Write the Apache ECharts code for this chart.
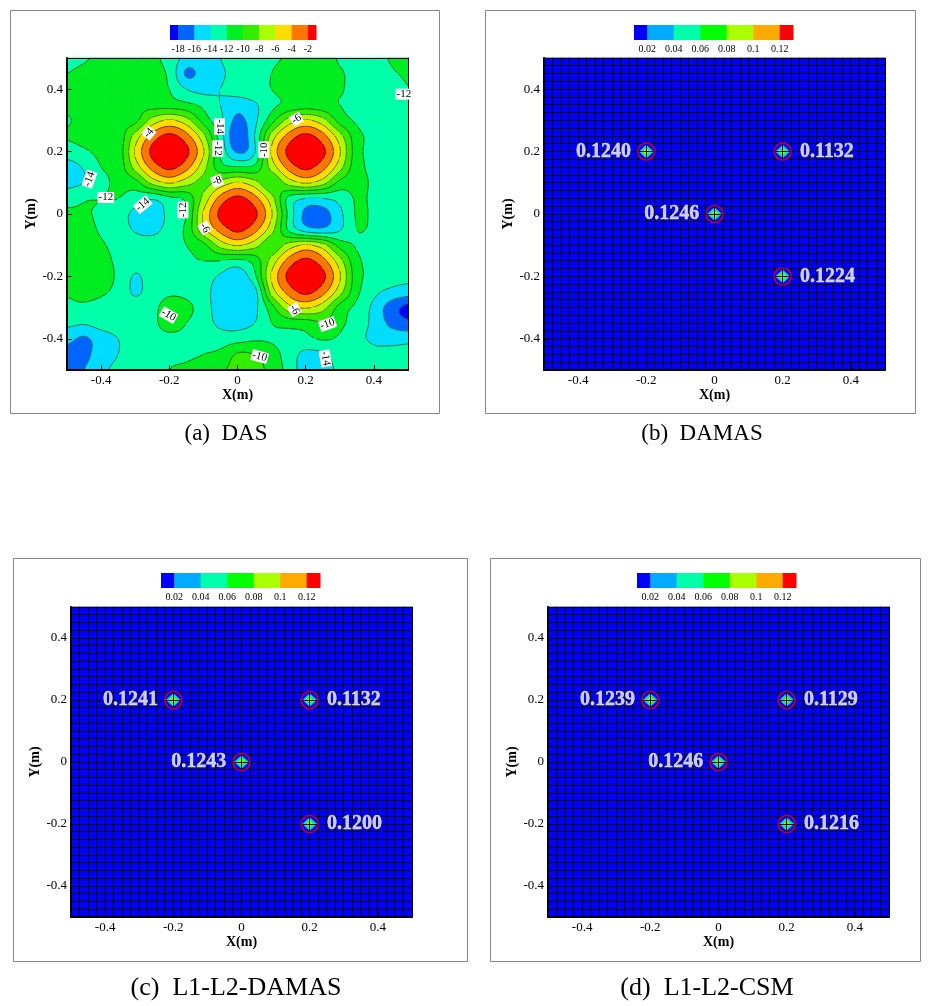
<!DOCTYPE html>
<html><head><meta charset="utf-8">
<script src="https://cdn.jsdelivr.net/npm/echarts@6/dist/echarts.min.js"></script>
<style>html,body{margin:0;padding:0;background:#fff}#c{width:931px;height:1006px}</style>
</head><body><div id="c"></div>
<script>
// ---------------- DATA ----------------
const dasX = [-0.5,-0.45,-0.4,-0.35,-0.3,-0.25,-0.2,-0.15,-0.1,-0.05,0,0.05,0.1,0.15,0.2,0.25,0.3,0.35,0.4,0.45,0.5];
const dasY = [0.5,0.45,0.4,0.35,0.3,0.25,0.2,0.15,0.1,0.05,0,-0.05,-0.1,-0.15,-0.2,-0.25,-0.3,-0.35,-0.4,-0.45,-0.5];
// DAS beamforming map in dB, one row per dasY value (top to bottom), columns follow dasX
const dasDB = [
 [-12.5,-12.2,-11.5,-11,-11,-11.5,-12.8,-14.6,-15,-14,-12.8,-12.5,-12.2,-11.8,-11,-11.2,-12.2,-12.6,-12.4,-11.9,-11.5],
 [-12,-11.5,-11,-10.8,-11,-11.3,-12.4,-16.3,-15.2,-14.4,-13,-12.4,-12,-11.4,-10.6,-11,-11.8,-12.5,-12.8,-12.2,-11.8],
 [-11.5,-11,-10.6,-10.5,-10.7,-11.2,-12,-14,-14.6,-14,-13,-12.5,-12,-11.2,-10.6,-11.2,-11.8,-12.6,-12.9,-12.8,-12.1],
 [-11.6,-11,-10.8,-10.5,-10.3,-10.8,-11,-11.5,-12.5,-14,-15.2,-14.3,-12.5,-11.5,-11,-11.3,-12,-12.6,-12.9,-13,-12.9],
 [-12.2,-11.2,-10.8,-10.5,-10.5,-7.2,-5.8,-7.2,-10.8,-13.5,-16.5,-14.5,-10.8,-7.2,-5.8,-7.2,-10.8,-12.3,-13,-13.2,-13.2],
 [-11.8,-11.3,-11,-11.2,-7.2,-3.3,-1.5,-3.3,-7.4,-13,-17.5,-14,-7.2,-3.3,-1.5,-3.3,-7.2,-11.3,-12.5,-13,-13],
 [-13,-12.3,-11.5,-11.2,-5.8,-1.5,0,-1.5,-5.8,-12.3,-16.3,-14.2,-5.8,-1.5,0,-1.5,-5.8,-11.2,-12.5,-13,-13],
 [-14.8,-13.8,-12,-11.3,-7.2,-3.3,-1.5,-3.3,-7.2,-11.2,-11.8,-11.5,-7.2,-3.3,-1.5,-3.3,-7.2,-11.3,-12.3,-12.8,-12.8],
 [-14.5,-14,-12.6,-11.5,-10.8,-7.4,-5.8,-7.2,-8.6,-7.2,-5.8,-7.2,-9.8,-7.2,-5.8,-7.2,-10.6,-11.5,-12.2,-12.6,-12.8],
 [-13,-12.2,-12,-12,-13,-13.8,-12.5,-11.5,-7.4,-3.3,-1.5,-3.3,-7.2,-12.5,-14,-14,-13.3,-11.8,-12.3,-12.8,-13],
 [-11.5,-11.8,-12.3,-13,-14.5,-15,-13.5,-12,-5.8,-1.5,0,-1.5,-5.8,-12.5,-16.5,-16.8,-14.5,-11.8,-12.3,-12.8,-13],
 [-11.3,-11.5,-12.2,-13,-14.2,-14.6,-13.2,-11.5,-6.5,-3.3,-1.5,-3.3,-7.2,-12.3,-15,-15.5,-14.2,-12,-12.3,-12.6,-12.8],
 [-11,-11.2,-11.8,-12.5,-13,-13,-12.5,-12,-10.6,-7.2,-5.8,-7.2,-9.5,-7.2,-5.8,-7.2,-10.8,-12.2,-12.8,-13,-13],
 [-10.8,-11,-11.5,-12.3,-13,-13.3,-12.8,-12.3,-12,-12,-12.5,-11.2,-7.2,-3.3,-1.5,-3.3,-7.2,-11.5,-12.5,-13,-13.2],
 [-10.5,-10.8,-11.3,-12.3,-14.2,-13,-12.5,-12.6,-13,-14.3,-15.3,-12.5,-5.8,-1.5,0,-1.5,-5.8,-11.2,-12.5,-13.2,-13.5],
 [-11.8,-11.6,-11.8,-12.5,-14.3,-13,-12.3,-12.5,-13.3,-15,-15.8,-14.8,-7.2,-3.3,-1.5,-3.3,-7.2,-11.5,-13.5,-14.5,-15],
 [-12.3,-12.3,-12.5,-12.8,-13,-12.5,-11.2,-11.5,-13,-15,-15.5,-14.5,-10.8,-6.8,-5.8,-7.2,-10.8,-12.5,-14.5,-17,-18.5],
 [-13.5,-13.8,-13.2,-13,-12.7,-12.3,-11.5,-12,-13,-14.5,-14.8,-14,-12,-11.2,-11,-10.2,-11.5,-13,-14.5,-16.5,-17.5],
 [-15.5,-16.3,-15,-14,-13,-12.5,-12.3,-12.3,-12.6,-13,-12.8,-12.3,-12.3,-12.8,-12.5,-11.8,-12.3,-13.5,-14.3,-14.6,-14.5],
 [-16.5,-16.5,-15,-14,-13,-12.5,-12.2,-12.2,-12,-11.5,-9.8,-10,-11,-13,-14.5,-14.3,-13,-12.8,-13.5,-13.5,-13.5],
 [-16.5,-16,-14.5,-13.5,-12.8,-12.3,-12,-11.8,-11.3,-10.3,-9.5,-9.6,-10.5,-12.8,-15,-15,-13.5,-13,-13.2,-13.3,-13.3]
];
const dasLevels = [-18,-16,-14,-12,-10,-8,-6,-4,-2];
const dasColors = ['#0000ff','#0066ff','#00ddff','#00ffaa','#00ee22','#33ee00','#aaff00','#ffdd00','#ff7700','#ff0000'];
// contour labels of the DAS map: x, y, text, angle
const dasLabelX = [-0.26,-0.053,-0.058,0.077,0.173,-0.06,-0.434,-0.386,-0.278,-0.16,-0.096,0.167,0.264,-0.202,0.065,0.258,0.488];
const dasLabelY = [0.26,0.28,0.21,0.206,0.304,0.106,0.112,0.053,0.03,0.013,-0.045,-0.307,-0.353,-0.324,-0.457,-0.463,0.384];
const dasLabelText = ['-4','-14','-12','-10','-6','-8','-14','-12','-14','-12','-6','-6','-10','-10','-10','-14','-12'];
const dasLabelAngle = [50,-90,-90,90,30,20,70,0,40,90,-60,-60,20,-30,-15,-80,0];

// deconvolution mesh (41 x 41 nodes)
const meshX = [-0.5,-0.475,-0.45,-0.425,-0.4,-0.375,-0.35,-0.325,-0.3,-0.275,-0.25,-0.225,-0.2,-0.175,-0.15,-0.125,-0.1,-0.075,-0.05,-0.025,0,0.025,0.05,0.075,0.1,0.125,0.15,0.175,0.2,0.225,0.25,0.275,0.3,0.325,0.35,0.375,0.4,0.425,0.45,0.475,0.5];
const meshY = meshX.slice();
const sourceX = [-0.2, 0.2, 0, 0.2];
const sourceY = [0.2, 0.2, 0, -0.2];
const damasPeak = [0.1240, 0.1132, 0.1246, 0.1224];
const l1l2DamasPeak = [0.1241, 0.1132, 0.1243, 0.1200];
const l1l2CsmPeak = [0.1239, 0.1129, 0.1246, 0.1216];
const labelSide = ['left','right','left','right'];
const powerLevels = [0.02,0.04,0.06,0.08,0.1,0.12];
const powerColors = ['#0000ff','#00aaff','#00ffaa','#00ff00','#aaff00','#ffaa00','#ff0000'];
const axisTickValues = [-0.4,-0.2,0,0.2,0.4];
const captions = ['(a)  DAS','(b)  DAMAS','(c)  L1-L2-DAMAS','(d)  L1-L2-CSM'];

// ---------------- LAYOUT ----------------
const FONT = "'Liberation Serif','Times New Roman',serif";
const panels = [
  {plot:{left:67,top:58,width:341,height:312}, bar:{left:170,top:25,width:146,height:15}, frame:[10,10,429,403], cap:[226,434], capSize:23, yGap:18},
  {plot:{left:544,top:58,width:341,height:312}, bar:{left:634,top:25,width:159,height:15}, frame:[485,10,430,403], cap:[702,434], capSize:23, yGap:20},
  {plot:{left:71,top:607,width:341,height:310}, bar:{left:161,top:573,width:159,height:15}, frame:[13,558,454,403], cap:[236,988], capSize:26, yGap:20},
  {plot:{left:548,top:607,width:341,height:310}, bar:{left:637,top:573,width:159,height:15}, frame:[490,558,430,403], cap:[707,988], capSize:26, yGap:20}
];

// ---------------- HELPERS ----------------
function bandIndex(v, levels){ let k=0; while(k<levels.length && v>=levels[k]) k++; return k; }
function clip(poly, L, dir){
  const out=[], n=poly.length;
  for(let i=0;i<n;i++){
    const P=poly[i], Q=poly[(i+1)%n];
    const pin = dir*(P[2]-L) >= 0, qin = dir*(Q[2]-L) >= 0;
    if(pin) out.push(P);
    if(pin!==qin){ const t=(L-P[2])/(Q[2]-P[2]); out.push([P[0]+t*(Q[0]-P[0]), P[1]+t*(Q[1]-P[1]), L]); }
  }
  return out;
}
function polyStr(poly){
  let s='M'+poly[0][0].toFixed(2)+' '+poly[0][1].toFixed(2);
  for(let i=1;i<poly.length;i++) s+='L'+poly[i][0].toFixed(2)+' '+poly[i][1].toFixed(2);
  return s+'Z';
}
function cr(p0,p1,p2,p3,t){
  return 0.5*(2*p1 + (-p0+p2)*t + (2*p0-5*p1+4*p2-p3)*t*t + (-p0+3*p1-3*p2+p3)*t*t*t);
}
// mode 'cubic': item = [x0,y0,x1,y1, 16 neighbourhood values]; mode 'linear': item = [x0,y0,x1,y1,v00,v10,v01,v11]
function makeFieldRenderer(levels, colors, sub, lines, mode){
  return function(params, api){
    const x0=api.value(0), y0=api.value(1), x1=api.value(2), y1=api.value(3);
    const pA=api.coord([x0,y0]), pB=api.coord([x1,y1]);
    let valueAt;
    if(mode==='cubic'){
      const q=[]; for(let k=0;k<16;k++) q.push(api.value(4+k));
      valueAt=(s,t)=>{
        const r=[0,1,2,3].map(b=>cr(q[b*4],q[b*4+1],q[b*4+2],q[b*4+3],s));
        return cr(r[0],r[1],r[2],r[3],t);
      };
    } else {
      const c=[api.value(4),api.value(5),api.value(6),api.value(7)];
      valueAt=(s,t)=> c[0]*(1-s)*(1-t)+c[1]*s*(1-t)+c[2]*(1-s)*t+c[3]*s*t;
    }
    const paths=colors.map(()=> '');
    let linePath='';
    const nodes=[];
    for(let j=0;j<=sub;j++){ const t=j/sub, row=[];
      for(let i=0;i<=sub;i++){ const s=i/sub;
        row.push([pA[0]+s*(pB[0]-pA[0]), pA[1]+t*(pB[1]-pA[1]), valueAt(s,t)]);
      }
      nodes.push(row);
    }
    function tri(A,B,C){
      const vmin=Math.min(A[2],B[2],C[2]), vmax=Math.max(A[2],B[2],C[2]);
      const k0=bandIndex(vmin,levels), k1=bandIndex(vmax,levels);
      if(k0===k1){ paths[k0]+=polyStr([A,B,C]); return; }
      for(let k=k0;k<=k1;k++){
        let poly=[A,B,C];
        if(k>0) poly=clip(poly,levels[k-1],1);
        if(poly.length>=3 && k<levels.length) poly=clip(poly,levels[k],-1);
        if(poly.length>=3) paths[k]+=polyStr(poly);
      }
      if(lines){
        for(let k=k0;k<k1;k++){
          const L=levels[k], pts=[];
          for(const [P,Q] of [[A,B],[B,C],[C,A]]){
            if((P[2]>=L)!==(Q[2]>=L)){ const t=(L-P[2])/(Q[2]-P[2]); pts.push([P[0]+t*(Q[0]-P[0]), P[1]+t*(Q[1]-P[1])]); }
          }
          if(pts.length===2) linePath+='M'+pts[0][0].toFixed(2)+' '+pts[0][1].toFixed(2)+'L'+pts[1][0].toFixed(2)+' '+pts[1][1].toFixed(2);
        }
      }
    }
    for(let j=0;j<sub;j++) for(let i=0;i<sub;i++){
      const a=nodes[j][i], b=nodes[j][i+1], cc=nodes[j+1][i], d=nodes[j+1][i+1];
      if(Math.max(a[2],d[2]) < Math.max(b[2],cc[2])){ tri(a,b,d); tri(a,d,cc); }
      else { tri(a,b,cc); tri(b,d,cc); }
    }
    const children=[];
    paths.forEach((p,k)=>{ if(p) children.push({type:'path', shape:{pathData:p}, style:{fill:colors[k], stroke:colors[k], lineWidth:0.8}}); });
    if(linePath) children.push({type:'path', shape:{pathData:linePath}, style:{fill:null, stroke:'#111', lineWidth:0.6}});
    return {type:'group', children};
  };
}
function cubicCells(xs, ys, grid){
  const out=[], nx=xs.length, ny=ys.length;
  const cl=(v,n)=> Math.max(0, Math.min(n-1, v));
  for(let j=0;j<ny-1;j++) for(let i=0;i<nx-1;i++){
    const item=[xs[i], ys[j], xs[i+1], ys[j+1]];
    for(let b=-1;b<=2;b++) for(let a=-1;a<=2;a++) item.push(grid[cl(j+b,ny)][cl(i+a,nx)]);
    out.push(item);
  }
  return out;
}
function linearCells(xs, ys, grid){
  const out=[];
  for(let j=0;j<ys.length-1;j++) for(let i=0;i<xs.length-1;i++){
    out.push([xs[i], ys[j], xs[i+1], ys[j+1], grid[j][i], grid[j][i+1], grid[j+1][i], grid[j+1][i+1]]);
  }
  return out;
}
function peakGrid(peaks){
  const g = meshY.map(()=> meshX.map(()=>0));
  const step = meshX[1]-meshX[0];
  peaks.forEach((v,i)=>{
    const ix=Math.round((sourceX[i]-meshX[0])/step), iy=Math.round((sourceY[i]-meshY[0])/step);
    g[iy][ix]=v;
  });
  return g;
}
function meshRenderer(params, api){
  const v=api.value(0), dir=api.value(1);
  let p, q;
  if(dir===0){ p=api.coord([v,meshY[0]]); q=api.coord([v,meshY[meshY.length-1]]); const x=Math.round(p[0]-0.5)+0.5; p[0]=x; q[0]=x; }
  else { p=api.coord([meshX[0],v]); q=api.coord([meshX[meshX.length-1],v]); const y=Math.round(p[1]-0.5)+0.5; p[1]=y; q[1]=y; }
  return {type:'line', shape:{x1:p[0], y1:p[1], x2:q[0], y2:q[1]}, style:{stroke:'#000', lineWidth:1}};
}

// ---------------- OPTION ----------------
const grid=[], xAxis=[], yAxis=[], series=[], graphic=[];
const fields = [null, damasPeak, l1l2DamasPeak, l1l2CsmPeak];

panels.forEach((P, p)=>{
  const gi=2*p, bi=2*p+1, ai=3*p;
  grid.push(Object.assign({show:false, containLabel:false}, P.plot));
  grid.push(Object.assign({show:false, containLabel:false}, P.bar));
  const isDas = p===0;
  const levels = isDas ? dasLevels : powerLevels;
  const colors = isDas ? dasColors : powerColors;
  const common = {type:'value', gridIndex:gi, min:-0.5, max:0.5, z:8,
    axisLine:{show:true, onZero:false, lineStyle:{color:'#000', width:2}},
    axisTick:{show:true, inside:true, length:5, customValues:axisTickValues, lineStyle:{color:'#000', width:1}},
    axisLabel:{customValues:axisTickValues, color:'#000', fontSize:13, fontFamily:FONT, margin:4},
    splitLine:{show:false},
    nameTextStyle:{color:'#000', fontWeight:'bold', fontSize:14, fontFamily:FONT}};
  xAxis.push(Object.assign({}, common, {position:'bottom', name:'X(m)', nameLocation:'middle', nameGap:12}));
  const sec = {type:'value', gridIndex:gi, min:-0.5, max:0.5, z:8,
    axisLine:{show:true, onZero:false, lineStyle:{color:'#000', width:1}},
    axisTick:{show:false}, axisLabel:{show:false}, splitLine:{show:false}};
  xAxis.push(Object.assign({}, sec, {position:'top'}));
  const half=(levels[1]-levels[0])/2;
  const bmin=levels[0]-half, bmax=levels[levels.length-1]+half;
  xAxis.push({type:'value', gridIndex:bi, min:bmin, max:bmax, axisLine:{show:false}, axisTick:{show:false}, splitLine:{show:false},
    axisLabel:{customValues:levels, color:'#000', fontSize:10, fontFamily:FONT, margin:4, formatter:(v)=> String(+v.toFixed(4))}});
  yAxis.push(Object.assign({}, common, {position:'left', name:'Y(m)', nameLocation:'middle', nameGap:P.yGap}));
  yAxis.push(Object.assign({}, sec, {position:'right'}));
  yAxis.push({type:'value', gridIndex:bi, min:0, max:1, show:false});

  if(isDas){
    series.push({type:'custom', xAxisIndex:ai, yAxisIndex:ai, z:2, silent:true,
      renderItem: makeFieldRenderer(levels, colors, 6, true, 'cubic'), data:cubicCells(dasX, dasY, dasDB)});
  } else {
    series.push({type:'custom', xAxisIndex:ai, yAxisIndex:ai, z:2, silent:true,
      renderItem: makeFieldRenderer(levels, colors, 1, false, 'linear'), data:linearCells(meshX, meshY, peakGrid(fields[p]))});
    const meshData = meshX.map(x=>[x,0]).concat(meshY.map(y=>[y,1]));
    series.push({type:'custom', xAxisIndex:ai, yAxisIndex:ai, z:3, silent:true, renderItem: meshRenderer, data: meshData});
  }

  const edges=[bmin].concat(levels, [bmax]);
  const barData=colors.map((c,k)=>[edges[k], edges[k+1], k]);
  series.push({type:'custom', xAxisIndex:ai+2, yAxisIndex:ai+2, silent:true, data:barData,
    renderItem:(params, api)=>{
      const p0=api.coord([api.value(0),0]), p1=api.coord([api.value(1),1]);
      return {type:'rect', shape:{x:p0[0], y:p1[1], width:p1[0]-p0[0]+0.5, height:p0[1]-p1[1]}, style:{fill:colors[api.value(2)]}};
    }});

  if(isDas){
    series.push({type:'scatter', xAxisIndex:ai, yAxisIndex:ai, z:10, symbolSize:0, silent:true,
      itemStyle:{color:'rgba(0,0,0,0)'},
      data: dasLabelX.map((x,i)=>({name:dasLabelText[i], value:[x, dasLabelY[i]], label:{rotate:dasLabelAngle[i]}})),
      label:{show:true, position:'inside', formatter:'{b}', color:'#000', fontSize:11, fontFamily:FONT,
        backgroundColor:'#fff', padding:[0,1,0,1], lineHeight:11, opacity:1}});
  } else {
    const peaks=fields[p];
    series.push({type:'scatter', xAxisIndex:ai, yAxisIndex:ai, z:10, symbol:'circle', symbolSize:17, silent:true,
      itemStyle:{color:'rgba(0,0,0,0)', borderColor:'#ff0000', borderWidth:1.5},
      data: sourceX.map((x,i)=>({value:[x, sourceY[i], peaks[i]], label:{position:labelSide[i], distance: labelSide[i]==='left'?6:8}})),
      label:{show:true, formatter:(d)=> d.value[2].toFixed(4), color:'#ffffff', fontWeight:700, fontSize:20, fontFamily:FONT,
        textBorderColor:'#ffffff', textBorderWidth:0.4}});
  }

  graphic.push({type:'rect', shape:{x:P.frame[0]+0.5, y:P.frame[1]+0.5, width:P.frame[2], height:P.frame[3]}, style:{fill:null, stroke:'#888', lineWidth:1}, z:0});
  graphic.push({type:'text', x:P.cap[0], y:P.cap[1], style:{text:captions[p], font:P.capSize+'px '+FONT, fill:'#000', textAlign:'center', textVerticalAlign:'middle'}});
});

const chart = echarts.init(document.getElementById('c'), null, {renderer:'canvas', width:931, height:1006});
chart.setOption({animation:false, backgroundColor:'#fff', textStyle:{fontFamily:FONT}, grid, xAxis, yAxis, series, graphic});
</script></body></html>
